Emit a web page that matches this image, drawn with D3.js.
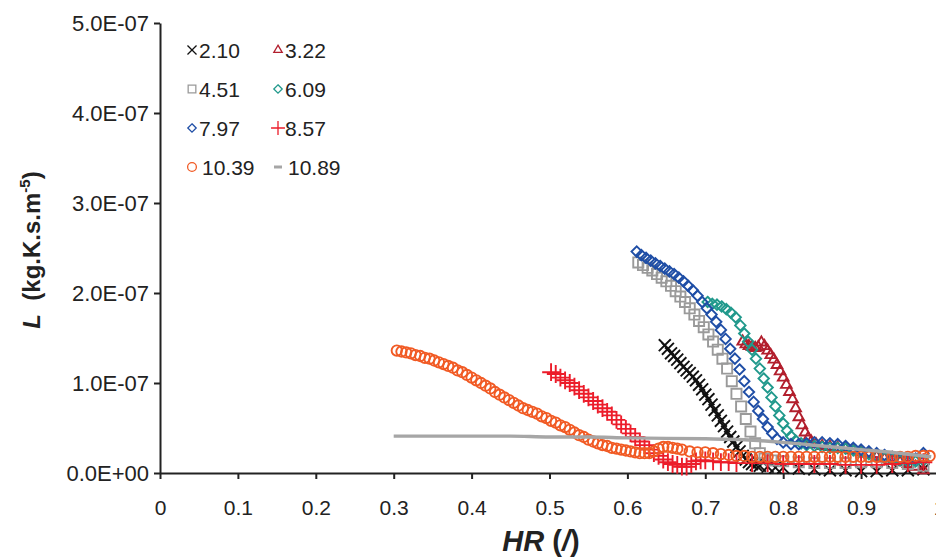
<!DOCTYPE html>
<html><head><meta charset="utf-8">
<script src="https://cdn.jsdelivr.net/npm/d3@7"></script>
<style>
html,body{margin:0;padding:0;background:#fff;}
svg{display:block;font-family:"Liberation Sans",Arial,sans-serif;}
</style></head>
<body><svg id="c" width="936" height="559"></svg>
<script>
// ---- data (L values in units of 1e-7 kg.K.s.m^-5) ----
const L_UNIT = 1e-7;
const xTicks = [0,0.1,0.2,0.3,0.4,0.5,0.6,0.7,0.8,0.9,1.0];
const yTicks = [0,1e-7,2e-7,3e-7,4e-7,5e-7];
const seriesNames = ["2.10","3.22","4.51","6.09","7.97","8.57","10.39","10.89"];

const hr_210 = [0.648,0.652,0.656,0.660,0.664,0.668,0.672,0.676,0.680,0.684,0.688,0.692,0.696,0.700,0.704,0.708,0.712,0.716,0.720,0.724,0.728,0.732,0.736,0.740,0.744,0.748,0.752,0.756,0.760,0.765,0.770,0.780,0.790,0.800,0.820,0.840,0.860,0.880,0.900,0.920,0.940,0.960,0.980];
const L_210  = [1.42,1.38,1.33,1.30,1.26,1.22,1.18,1.14,1.11,1.07,1.03,0.98,0.93,0.87,0.82,0.76,0.70,0.64,0.58,0.52,0.46,0.40,0.35,0.29,0.24,0.19,0.15,0.12,0.10,0.09,0.08,0.07,0.06,0.06,0.05,0.04,0.03,0.03,0.02,0.02,0.03,0.03,0.04];

const hr_322 = [0.748,0.752,0.756,0.760,0.764,0.768,0.772,0.776,0.780,0.784,0.788,0.792,0.796,0.800,0.804,0.808,0.812,0.816,0.820,0.824,0.828,0.832,0.836,0.842,0.850,0.860,0.870,0.880,0.890,0.900,0.910,0.920,0.930,0.940,0.950,0.960,0.970,0.980];
const L_322  = [1.46,1.43,1.41,1.40,1.39,1.40,1.45,1.41,1.36,1.31,1.26,1.20,1.13,1.06,0.98,0.90,0.82,0.72,0.62,0.53,0.45,0.39,0.35,0.32,0.30,0.29,0.28,0.27,0.25,0.23,0.21,0.18,0.16,0.14,0.12,0.10,0.07,0.03];

const hr_451 = [0.614,0.620,0.626,0.632,0.638,0.644,0.650,0.656,0.662,0.668,0.674,0.680,0.686,0.692,0.698,0.704,0.710,0.716,0.722,0.728,0.734,0.740,0.746,0.752,0.758,0.764,0.770,0.776,0.785,0.800,0.820,0.840,0.860,0.880,0.900,0.920,0.940,0.960,0.980];
const L_451  = [2.34,2.31,2.28,2.25,2.21,2.17,2.13,2.08,2.02,1.96,1.90,1.83,1.76,1.69,1.62,1.54,1.46,1.37,1.27,1.16,1.02,0.88,0.74,0.60,0.46,0.33,0.22,0.16,0.14,0.13,0.12,0.11,0.11,0.11,0.12,0.12,0.11,0.10,0.08];

const hr_609 = [0.703,0.709,0.715,0.721,0.727,0.733,0.739,0.745,0.750,0.755,0.760,0.765,0.770,0.775,0.780,0.785,0.790,0.795,0.800,0.805,0.810,0.816,0.823,0.830,0.840,0.850,0.860,0.870,0.880,0.890,0.900,0.910,0.920,0.930,0.940,0.950,0.960,0.970,0.980];
const L_609  = [1.90,1.88,1.87,1.85,1.82,1.78,1.73,1.64,1.55,1.46,1.37,1.27,1.16,1.05,0.95,0.84,0.74,0.64,0.55,0.47,0.41,0.36,0.33,0.31,0.30,0.29,0.28,0.28,0.27,0.25,0.23,0.21,0.19,0.17,0.15,0.14,0.13,0.13,0.14];

const hr_797 = [0.612,0.618,0.624,0.630,0.636,0.642,0.648,0.654,0.660,0.666,0.672,0.678,0.684,0.690,0.696,0.702,0.708,0.714,0.720,0.726,0.732,0.738,0.744,0.750,0.756,0.762,0.768,0.774,0.780,0.786,0.792,0.800,0.810,0.820,0.830,0.840,0.850,0.860,0.870,0.880,0.890,0.900,0.910,0.920,0.930,0.940,0.950,0.960,0.970,0.980];
const L_797  = [2.46,2.42,2.39,2.36,2.33,2.30,2.27,2.24,2.21,2.17,2.13,2.08,2.03,1.97,1.90,1.83,1.76,1.68,1.59,1.49,1.38,1.27,1.15,1.02,0.90,0.79,0.69,0.60,0.51,0.44,0.38,0.34,0.32,0.32,0.33,0.34,0.34,0.33,0.32,0.30,0.28,0.26,0.24,0.22,0.20,0.18,0.16,0.15,0.16,0.22];

const hr_857 = [0.502,0.508,0.514,0.520,0.526,0.532,0.538,0.544,0.550,0.556,0.562,0.568,0.574,0.580,0.586,0.592,0.598,0.604,0.610,0.616,0.622,0.628,0.634,0.640,0.646,0.652,0.658,0.664,0.670,0.676,0.682,0.688,0.694,0.700,0.710,0.720,0.730,0.740,0.760,0.780,0.800,0.820,0.840,0.860,0.880,0.900,0.920,0.940,0.960,0.980];
const L_857  = [1.12,1.10,1.06,1.03,1.00,0.96,0.92,0.88,0.84,0.80,0.76,0.72,0.68,0.64,0.59,0.54,0.49,0.44,0.40,0.35,0.31,0.26,0.22,0.19,0.15,0.12,0.10,0.09,0.07,0.07,0.10,0.13,0.14,0.14,0.13,0.12,0.12,0.11,0.11,0.11,0.10,0.10,0.10,0.10,0.09,0.09,0.09,0.10,0.11,0.12];

const hr_1039 = [0.304,0.310,0.316,0.322,0.328,0.334,0.340,0.346,0.352,0.358,0.364,0.370,0.376,0.382,0.388,0.394,0.400,0.406,0.412,0.418,0.424,0.430,0.436,0.442,0.448,0.454,0.460,0.466,0.472,0.478,0.484,0.490,0.496,0.502,0.508,0.514,0.520,0.526,0.532,0.538,0.544,0.550,0.556,0.562,0.568,0.574,0.580,0.586,0.592,0.598,0.604,0.610,0.616,0.622,0.628,0.634,0.640,0.646,0.652,0.658,0.664,0.670,0.680,0.690,0.700,0.710,0.720,0.730,0.740,0.750,0.760,0.770,0.780,0.790,0.800,0.810,0.820,0.830,0.840,0.850,0.860,0.870,0.880,0.890,0.900,0.910,0.920,0.930,0.940,0.950,0.960,0.970,0.980,0.988];
const L_1039  = [1.36,1.35,1.34,1.33,1.31,1.30,1.28,1.27,1.25,1.23,1.21,1.19,1.17,1.14,1.12,1.09,1.06,1.03,1.00,0.97,0.94,0.90,0.87,0.84,0.81,0.78,0.75,0.72,0.70,0.68,0.66,0.63,0.61,0.58,0.56,0.53,0.51,0.48,0.45,0.42,0.40,0.37,0.35,0.33,0.31,0.30,0.28,0.27,0.26,0.25,0.24,0.23,0.22,0.22,0.22,0.24,0.27,0.29,0.29,0.28,0.27,0.26,0.24,0.23,0.23,0.22,0.21,0.20,0.19,0.19,0.18,0.18,0.18,0.18,0.18,0.18,0.18,0.18,0.18,0.18,0.18,0.18,0.18,0.18,0.18,0.18,0.18,0.18,0.18,0.18,0.18,0.19,0.19,0.19];

const hr_1089 = [0.300,0.350,0.400,0.450,0.500,0.550,0.600,0.650,0.700,0.750,0.800,0.850,0.900,0.950,0.990];
const L_1089  = [0.41,0.41,0.41,0.41,0.40,0.40,0.39,0.385,0.38,0.37,0.34,0.30,0.26,0.22,0.18];

const series = [
  {name:"2.10",  hr:hr_210,  L:L_210,  type:"times",    color:"#111111"},
  {name:"3.22",  hr:hr_322,  L:L_322,  type:"triangle", color:"#b21f2d"},
  {name:"4.51",  hr:hr_451,  L:L_451,  type:"square",   color:"#9a9a9a"},
  {name:"6.09",  hr:hr_609,  L:L_609,  type:"diamond",  color:"#21998c"},
  {name:"7.97",  hr:hr_797,  L:L_797,  type:"diamond",  color:"#1f4ea6"},
  {name:"8.57",  hr:hr_857,  L:L_857,  type:"plus",     color:"#ec1c2a"},
  {name:"10.39", hr:hr_1039, L:L_1039, type:"circle",   color:"#f15a24"},
  {name:"10.89", hr:hr_1089, L:L_1089, type:"line",     color:"#a6a6a6"}
];

// ---- layout ----
const FONT = "'Liberation Sans',Arial,sans-serif";
const svg = d3.select("#c");
const x = d3.scaleLinear().domain([0,1]).range([160,939]);
const y = d3.scaleLinear().domain([0,5e-7]).range([473,23]);

const symType = {
  times: d3.symbolTimes, triangle: d3.symbolTriangle2, square: d3.symbolSquare2,
  diamond: d3.symbolDiamond2, plus: d3.symbolPlus, circle: d3.symbolCircle
};
const symSize = {times:95, triangle:80, square:130, diamond:70, plus:105, circle:85};

function fmtE(v){
  const [m,e] = v.toExponential(1).split("e");
  const n = +e;
  return m + "E" + (n<0?"-":"+") + String(Math.abs(n)).padStart(2,"0");
}

// axes
const yAxis = d3.axisLeft(y).tickValues(yTicks).tickFormat(fmtE).tickSize(6).tickSizeOuter(0);
const gy = svg.append("g").attr("transform","translate(160,0)").call(yAxis);
gy.select(".domain").attr("stroke","#222").attr("stroke-width",2);
gy.selectAll(".tick line").attr("stroke","#222").attr("stroke-width",2);
gy.selectAll(".tick text").attr("font-size",22).attr("fill","#222").attr("x",-11)
  .attr("font-family",FONT);

const xAxis = d3.axisBottom(x).tickValues(xTicks)
  .tickFormat(d=>d===0?"0":(d===1?"1":d3.format(".1f")(d))).tickSize(6).tickSizeOuter(0);
const gx = svg.append("g").attr("transform","translate(0,473)").call(xAxis);
gx.select(".domain").attr("stroke","#222").attr("stroke-width",2);
gx.selectAll(".tick line").attr("stroke","#222").attr("stroke-width",2);
gx.selectAll(".tick text").attr("font-size",21).attr("fill","#222").attr("y",22).attr("dy","0.95em")
  .attr("font-family",FONT);

// data
const plot = svg.append("g");
series.forEach(s=>{
  const pts = s.hr.map((h,i)=>({x:h, y:s.L[i]*L_UNIT}));
  if (s.type==="line") {
    plot.append("path").datum(pts)
      .attr("d", d3.line().x(d=>x(d.x)).y(d=>y(d.y)).curve(d3.curveMonotoneX))
      .attr("fill","none").attr("stroke",s.color).attr("stroke-width",3.4);
  } else {
    const sym = d3.symbol().type(symType[s.type]).size(symSize[s.type]);
    plot.append("g").selectAll("path").data(pts).join("path")
      .attr("transform",d=>`translate(${x(d.x)},${y(d.y)})`)
      .attr("d",sym).attr("fill","none").attr("stroke",s.color).attr("stroke-width",1.9);
  }
});

// legend
const legCols = [192, 278];
const legRows = [50, 89, 128, 167];
const leg = svg.append("g");
series.forEach((s,i)=>{
  const cx = legCols[i%2], cy = legRows[Math.floor(i/2)];
  if (s.type==="line") {
    leg.append("line").attr("x1",cx-4).attr("x2",cx+4).attr("y1",cy).attr("y2",cy)
      .attr("stroke",s.color).attr("stroke-width",3);
  } else {
    const sz = {times:55,triangle:50,square:75,diamond:45,plus:65,circle:60}[s.type];
    leg.append("path").attr("transform",`translate(${cx},${cy})`)
      .attr("d", d3.symbol().type(symType[s.type]).size(sz)())
      .attr("fill","none").attr("stroke",s.color).attr("stroke-width",1.3);
  }
  leg.append("text").attr("x",cx+(s.name.length>4?10:7)).attr("y",cy).attr("dy","0.36em")
    .attr("font-size",21).attr("fill","#222").attr("font-family",FONT).text(s.name);
});

// axis titles
const yt = svg.append("text").attr("transform","translate(40,250) rotate(-90)")
  .attr("text-anchor","middle").attr("font-size",24).attr("font-weight","bold").attr("fill","#222")
  .attr("font-family",FONT);
yt.append("tspan").attr("font-style","italic").text("L");
yt.append("tspan").text("\u00a0\u00a0(kg.K.s.m");
yt.append("tspan").attr("font-size",15).attr("dy",-10).text("-5");
yt.append("tspan").attr("dy",10).text(")");

const xt = svg.append("text").attr("x",541).attr("y",551)
  .attr("text-anchor","middle").attr("font-size",29).attr("font-weight","bold").attr("fill","#222")
  .attr("font-family",FONT);
xt.append("tspan").attr("font-style","italic").text("HR");
xt.append("tspan").text(" (");
xt.append("tspan").attr("font-style","italic").text("/");
xt.append("tspan").text(")");
</script>
</body></html>
